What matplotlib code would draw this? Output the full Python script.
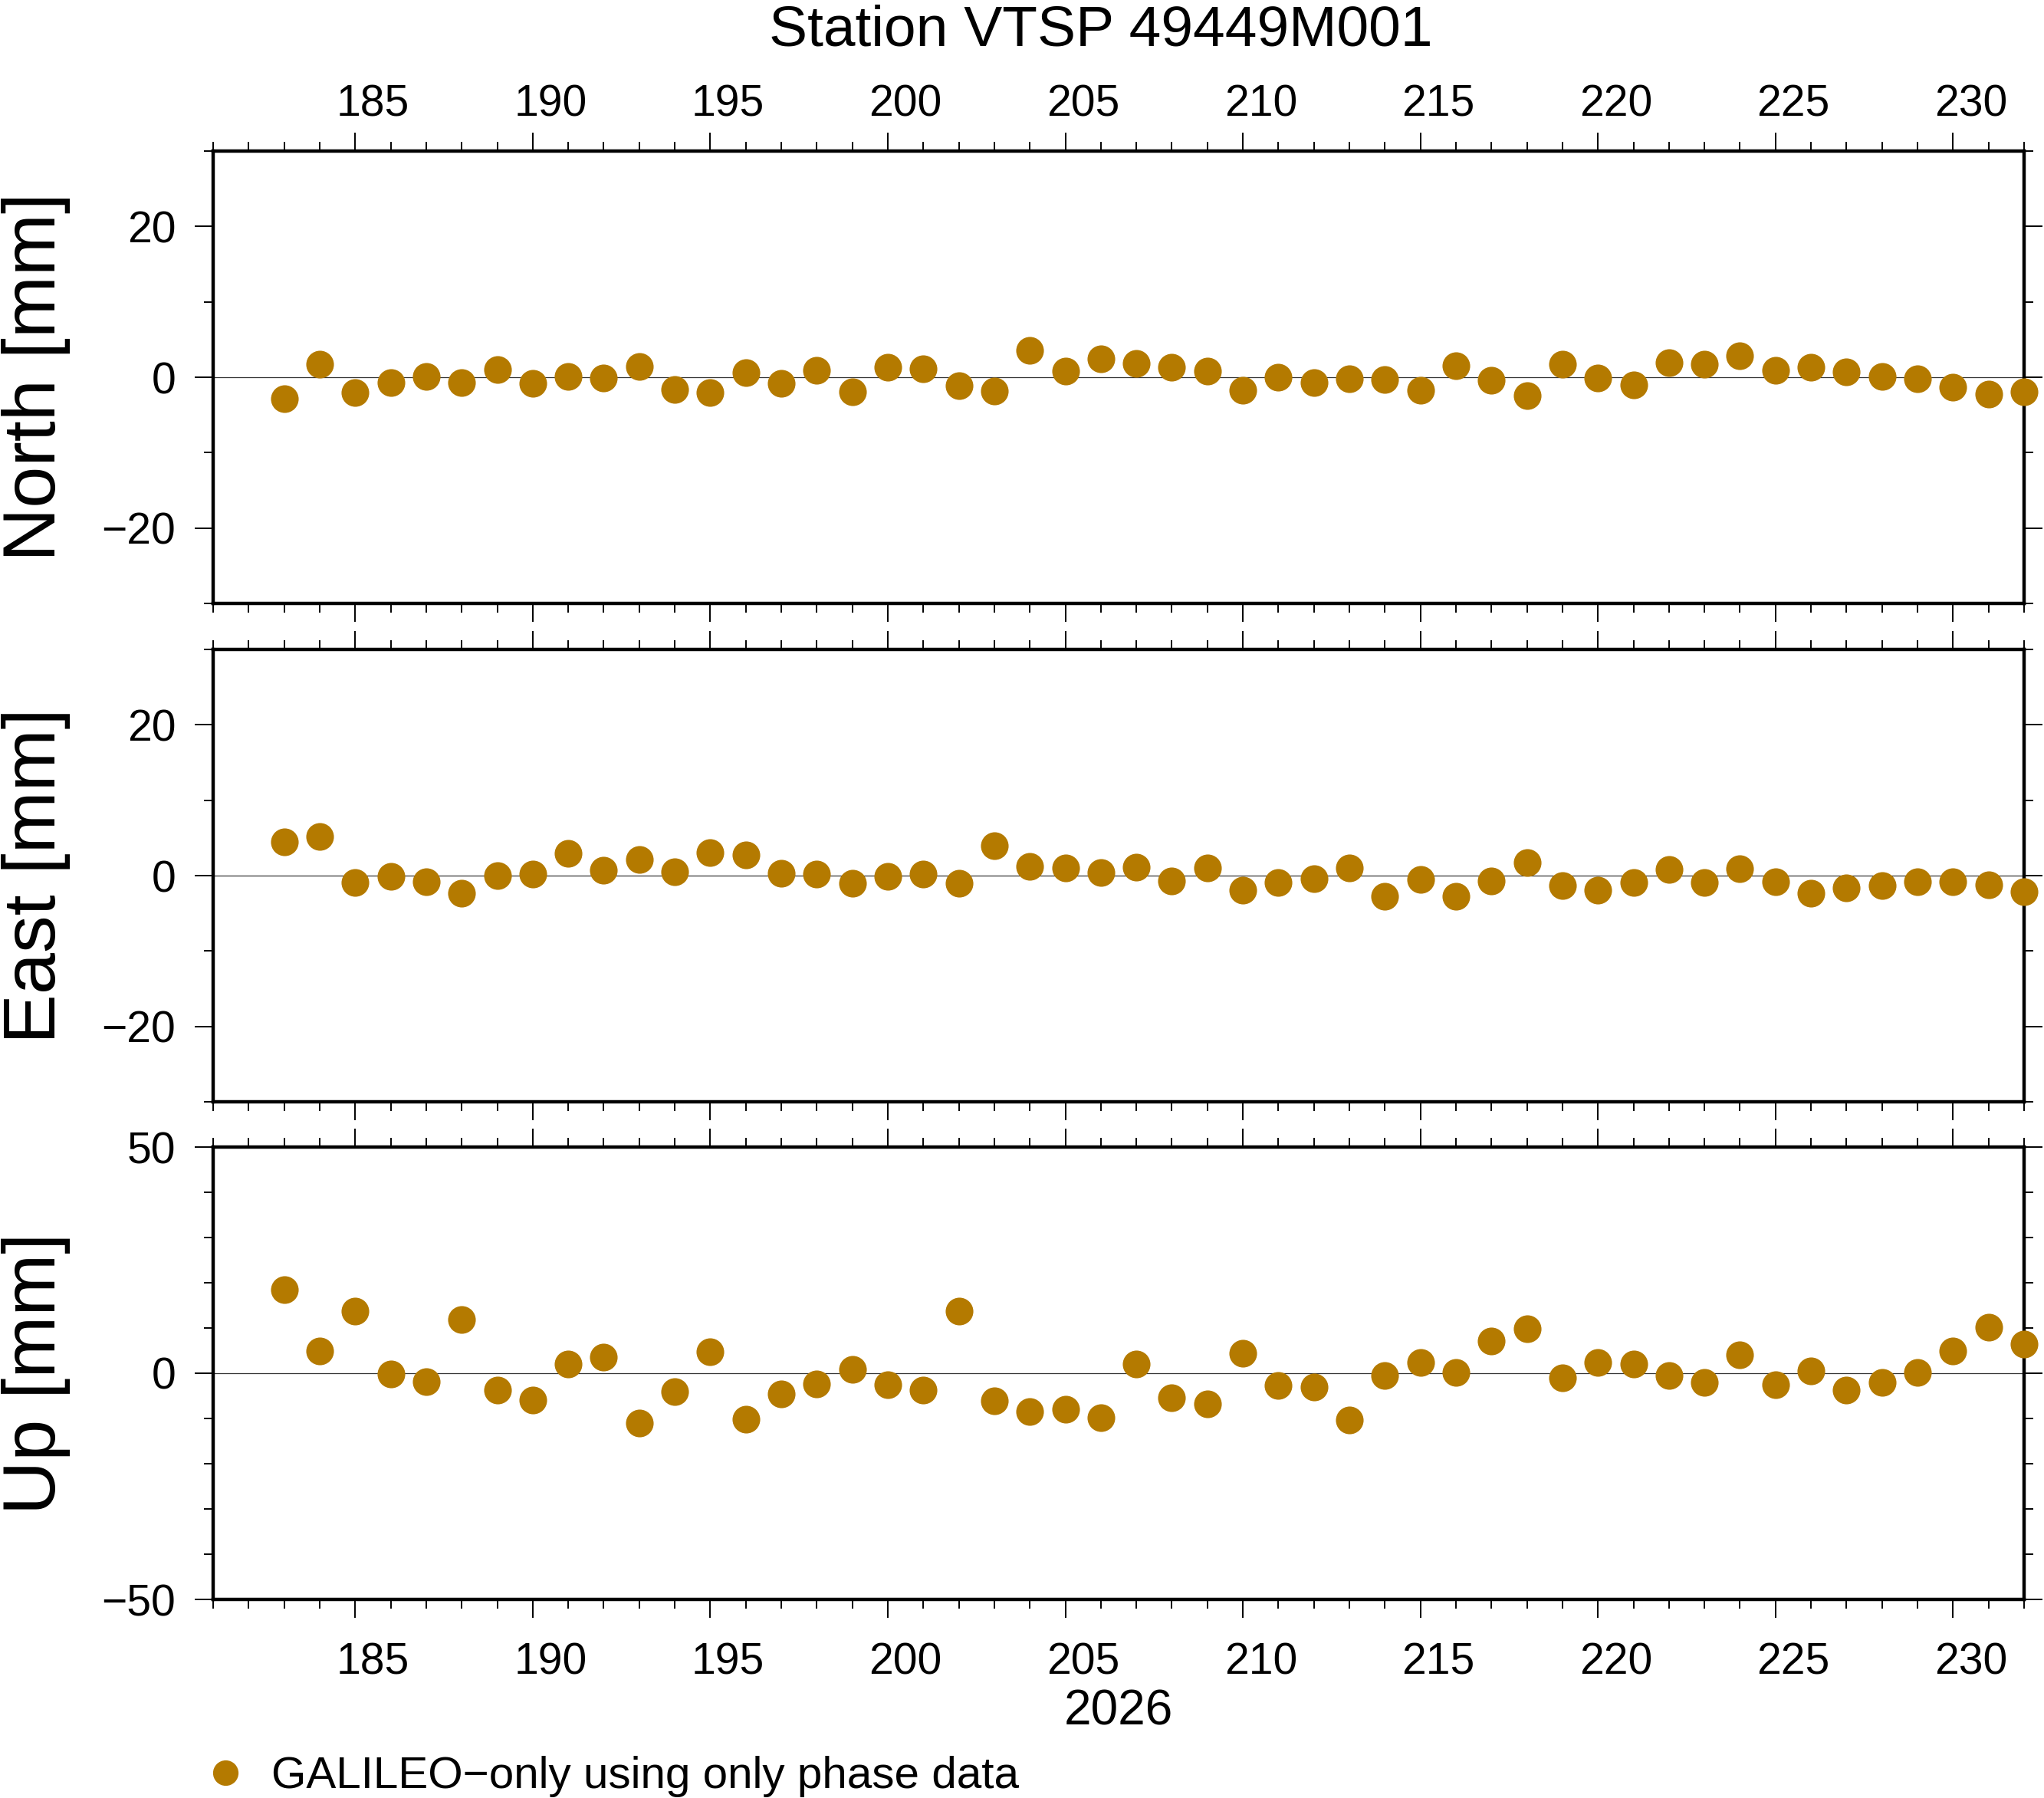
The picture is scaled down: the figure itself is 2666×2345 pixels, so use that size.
import numpy as np
import matplotlib.pyplot as plt
from matplotlib.ticker import MultipleLocator, FixedLocator, NullLocator

plt.rcParams['font.family'] = ['Liberation Sans', 'DejaVu Sans']

# day of year 2026
days = list(range(183, 233))
day_labels = [185, 190, 195, 200, 205, 210, 215, 220, 225, 230]

north = [-2.85, 1.7, -2.0, -0.7, 0.1, -0.7, 1.0, -0.8, 0.1, -0.1,
         1.4, -1.6, -2.0, 0.6, -0.8, 0.9, -1.9, 1.3, 1.1, -1.1,
         -1.8, 3.6, 0.8, 2.4, 1.8, 1.3, 0.8, -1.7, 0.0, -0.7,
         -0.2, -0.3, -1.7, 1.5, -0.4, -2.4, 1.7, -0.1, -1.0, 1.9,
         1.7, 2.8, 0.9, 1.3, 0.7, 0.1, -0.2, -1.3, -2.2, -1.9]
east = [4.5, 5.2, -0.9, -0.1, -0.8, -2.3, 0.0, 0.2, 3.0, 0.7,
        2.1, 0.5, 3.1, 2.7, 0.3, 0.2, -1.0, -0.1, 0.2, -1.0,
        4.0, 1.2, 1.0, 0.4, 1.1, -0.7, 1.0, -1.9, -0.9, -0.4,
        1.0, -2.7, -0.5, -2.7, -0.7, 1.7, -1.3, -1.9, -0.9, 0.8,
        -0.9, 0.9, -0.8, -2.3, -1.6, -1.3, -0.8, -0.8, -1.2, -2.1]
up = [18.4, 5.0, 13.8, -0.1, -1.8, 11.9, -3.7, -6.0, 2.1, 3.5,
      -11.1, -4.0, 4.7, -10.2, -4.6, -2.3, 0.8, -2.6, -3.8, 13.8,
      -6.1, -8.4, -8.0, -9.8, 2.1, -5.5, -6.7, 4.4, -2.7, -3.1,
      -10.4, -0.5, 2.3, 0.1, 7.2, 9.8, -1.0, 2.3, 2.1, -0.5,
      -2.1, 4.1, -2.5, 0.5, -3.8, -2.1, 0.2, 5.0, 10.1, 6.4]

comps = [north, east, up]
labels = ['North [mm]', 'East [mm]', 'Up [mm]']
ylims = [30, 30, 50]
ymajor = [20, 20, 50]
col = '#b47a00'

W, H = 2666, 2345
fig = plt.figure(figsize=(W / 100, H / 100), dpi=100)

left, right = 278 / W, 2640 / W
tops = [197, 847, 1496]
ph = 590


def minus(v, p):
    return f'{v:.0f}'.replace('-', '\u2212')


axes = []
for i in range(3):
    ax = fig.add_axes([left, 1 - (tops[i] + ph) / H, right - left, ph / H])
    ax.plot(days, comps[i], 'o', ms=26, color=col, mec='none', clip_on=False, zorder=3,
            label='GALILEO\u2212only using only phase data')
    ax.axhline(0, color='#333333', lw=0.9, zorder=1)
    ax.set_xlim(181, 232)
    ax.set_ylim(-ylims[i], ylims[i])
    ax.xaxis.set_major_locator(MultipleLocator(5))
    ax.xaxis.set_minor_locator(MultipleLocator(1))
    ax.yaxis.set_major_locator(MultipleLocator(ymajor[i]))
    ax.yaxis.set_minor_locator(MultipleLocator(10))
    for s in ax.spines.values():
        s.set_linewidth(3.2)
    ax.tick_params(which='both', direction='out', top=True, bottom=True, left=True, right=True,
                   labeltop=False, labelbottom=False, width=1.4, labelsize=41)
    ax.tick_params(which='major', length=17)
    ax.tick_params(which='minor', length=8.5)
    ax.tick_params(axis='y', which='major', pad=18)
    ax.yaxis.set_major_formatter(plt.FuncFormatter(minus))
    fig.text(47 / W, 1 - (tops[i] + ph / 2) / H, labels[i], rotation=90,
             ha='center', va='center', fontsize=70)
    axes.append(ax)

# day annotations sit in the middle of the day interval (half a day right of the tick)
for ax, side, pad in [(axes[0], 'top', 24), (axes[2], 'bottom', 40)]:
    sec = ax.secondary_xaxis(side, functions=(lambda x: x - 0.5, lambda x: x + 0.5))
    sec.xaxis.set_major_locator(FixedLocator(day_labels))
    sec.xaxis.set_minor_locator(NullLocator())
    sec.tick_params(which='both', length=0, labelsize=41, pad=pad)
    sec.xaxis.set_major_formatter(plt.FuncFormatter(minus))
    sec.spines[side].set_visible(False)

fig.text(1436 / W, 1 - 60 / H, 'Station VTSP 49449M001', ha='center', va='baseline', fontsize=54)
fig.text((left + right) / 2, 1 - 2249 / H, '2026', ha='center', va='baseline', fontsize=46)

h, l = axes[0].get_legend_handles_labels()
fig.legend(h, l, loc='lower left', bbox_to_anchor=(236 / W, -40 / H), frameon=False,
           fontsize=42, markerscale=0.92, handlelength=0.6, handletextpad=0.72, borderpad=0.2)

fig.savefig('out.png', dpi=100)
